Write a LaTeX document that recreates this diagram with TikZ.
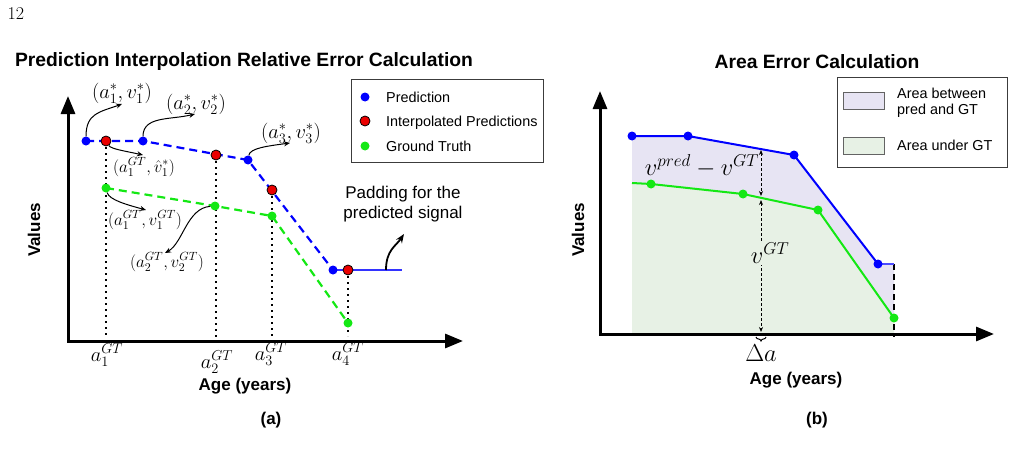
\RequirePackage{fix-cm}
\documentclass[tikz,border=0pt]{standalone}
\usepackage{amsmath, amssymb}
\usepackage{fontspec}
\newfontfamily\arialfont{Liberation Sans}
\usepackage{tikz}
\usetikzlibrary{arrows.meta, decorations.pathreplacing}
\pgfdeclarelayer{background}
\pgfsetlayers{background,main}

\definecolor{predblue}{RGB}{0,0,255}
\definecolor{interpred}{RGB}{235,0,0}
\definecolor{gtgreen}{RGB}{20,232,20}
\definecolor{areafill}{RGB}{231,228,243}
\definecolor{gtfill}{RGB}{231,241,229}
\definecolor{boxgray}{RGB}{60,60,60}

\begin{document}
\begin{tikzpicture}[x=1pt, y=-1pt,
    pred/.style={circle, fill=predblue, inner sep=0pt, minimum size=9pt},
    interp/.style={circle, fill=interpred, draw=black, line width=0.8pt, inner sep=0pt, minimum size=10pt},
    gt/.style={circle, fill=gtgreen, inner sep=0pt, minimum size=9pt},
    axis/.style={line width=3pt, {Triangle[length=18pt, width=14pt]}-{Triangle[length=18pt, width=14pt]}},
    callout/.style={line width=1pt, -{Stealth[length=6pt, width=5pt]}},
    dimline/.style={line width=0.9pt, dash pattern=on 3pt off 2pt, {Stealth[length=5pt, width=4pt]}-{Stealth[length=5pt, width=4pt]}},
    vdots/.style={line width=2pt, dash pattern=on 2pt off 4pt},
    legendbox/.style={draw=boxgray, line width=1pt},
    swatch/.style={rectangle, draw=boxgray!80, line width=1pt, minimum width=41pt, minimum height=17pt, inner sep=0pt},
    pagenum/.style={font=\fontsize{18}{20}\selectfont},
    titletext/.style={font=\arialfont\bfseries\fontsize{19.3}{23}\selectfont},
    axislabel/.style={font=\arialfont\bfseries\fontsize{17}{20}\selectfont},
    legtext/.style={font=\arialfont\fontsize{14.4}{16.5}\selectfont, anchor=west, inner sep=0pt},
    legrow/.style={legtext, text height=10.3pt, text depth=0pt},
    notetext/.style={font=\arialfont\fontsize{17}{20}\selectfont, align=center},
    bigmath/.style={font=\fontsize{20.5}{24}\selectfont, inner sep=0pt},
    smallmath/.style={font=\fontsize{17}{20}\selectfont, inner sep=0pt},
    areamath/.style={font=\fontsize{24.5}{28}\selectfont, inner sep=0pt}]

    \useasboundingbox (0,0) rectangle (1015,460);
    \node[pagenum] (page) at (16,14) {12};

    \node[titletext] (titlea) at (244,62) {Prediction Interpolation Relative Error Calculation};
    \coordinate (oa) at (68,341);
    \coordinate (ya) at (68,96);
    \coordinate (xa) at (463,341);
    \draw[axis] (ya) -- (oa) -- (xa);
    \node[axislabel, rotate=90] (vala) at (34,230) {Values};
    \node[axislabel] (agea) at (245,386) {Age (years)};
    \node[axislabel] (capa) at (271,420) {(a)};

    \node[pred] (p1) at (86,141) {};
    \node[pred] (p2) at (143,141) {};
    \node[pred] (p3) at (248,160) {};
    \node[pred] (p4) at (333,270) {};
    \node[interp] (r1) at (106,141) {};
    \node[interp] (r2) at (216,155) {};
    \node[interp] (r3) at (272,190) {};
    \node[interp] (r4) at (348,270) {};
    \node[gt] (g1) at (106,188) {};
    \node[gt] (g2) at (215,206) {};
    \node[gt] (g3) at (272,216) {};
    \node[gt] (g4) at (348,323) {};
    \coordinate (pe) at (402,270);
    \coordinate (v1) at (106,336);
    \coordinate (v2) at (216,343);
    \coordinate (v3) at (272,336);
    \coordinate (v4) at (348,336);

    \begin{pgfonlayer}{background}
        \draw[vdots] (r1.center) -- (v1);
        \draw[vdots] (r2.center) -- (v2);
        \draw[vdots] (r3.center) -- (v3);
        \draw[vdots] (r4.center) -- (v4);
        \draw[predblue, line width=2.2pt, dash pattern=on 8pt off 5pt] (p1.center) -- (p2.center) -- (p3.center) -- (p4.center);
        \draw[predblue!80, line width=1.6pt] (p4.center) -- (r4.center) -- (pe);
        \draw[gtgreen, line width=2.2pt, dash pattern=on 8pt off 5pt] (g1.center) -- (g2.center) -- (g3.center) -- (g4.center);
    \end{pgfonlayer}

    \node[bigmath] (l1) at (122,93) {$(a_1^*, v_1^*)$};
    \node[bigmath] (l2) at (196,104) {$(a_2^*, v_2^*)$};
    \node[bigmath] (l3) at (291,133) {$(a_3^*, v_3^*)$};
    \node[smallmath] (l4) at (144,167) {$(a_1^{GT}, \hat{v}_1^*)$};
    \node[smallmath] (l5) at (145,220) {$(a_1^{GT}, v_1^{GT})$};
    \node[smallmath] (l6) at (167,262) {$(a_2^{GT}, v_2^{GT})$};
    \coordinate (t1) at (122,104);
    \coordinate (t2) at (195,114);
    \coordinate (t3) at (290,143);
    \coordinate (t4) at (143,155);
    \coordinate (t5) at (146,210);
    \coordinate (t6) at (165,253);
    \draw[callout] (p1) .. controls +(0,-28) and +(-22,8) .. (t1);
    \draw[callout] (p2) .. controls +(0,-25) and +(-25,6) .. (t2);
    \draw[callout] (p3) .. controls +(2,-12) and +(-22,3) .. (t3);
    \draw[callout] (r1) .. controls +(5,8) and +(-18,-4) .. (t4);
    \draw[callout] (g1) .. controls +(3,12) and +(-18,-5) .. (t5);
    \draw[callout] (g2) .. controls +(-28,2) and +(18,-10) .. (t6);

    \node[notetext] (padtext) at (403,204) {Padding for the\\predicted signal};
    \coordinate (pad) at (386,270);
    \coordinate (t7) at (404,234);
    \draw[line width=1.8pt, -{Stealth[length=9pt, width=7pt]}] (pad) .. controls +(0,-20) and +(-8,12) .. (t7);

    \node[bigmath] (ax1) at (107,355) {$a_1^{GT}$};
    \node[bigmath] (ax2) at (217,362) {$a_2^{GT}$};
    \node[bigmath] (ax3) at (271,354) {$a_3^{GT}$};
    \node[bigmath] (ax4) at (348,354) {$a_4^{GT}$};

    \draw[legendbox] (351,80) rectangle (543,162);
    \node[pred] (lp) at (365,97) {};
    \node[legrow] (lpt) at (386,97) {Prediction};
    \node[interp] (li) at (365,121) {};
    \node[legrow] (lit) at (386,121) {Interpolated Predictions};
    \node[gt] (lg) at (365,146) {};
    \node[legrow] (lgt) at (386,146) {Ground Truth};

    \node[titletext] (titleb) at (817,62) {Area Error Calculation};
    \coordinate (ob) at (600,334);
    \coordinate (yb) at (600,91);
    \coordinate (xb) at (994,334);
    \node[axislabel, rotate=90] (valb) at (578,230) {Values};
    \node[axislabel] (ageb) at (796,380) {Age (years)};
    \node[axislabel] (capb) at (817,420) {(b)};

    \node[pred] (b1) at (632,136) {};
    \node[pred] (b2) at (688,136) {};
    \node[pred] (b3) at (794,155) {};
    \node[pred] (b4) at (878,264) {};
    \coordinate (b5) at (894,264);
    \coordinate (gs) at (632,183);
    \node[gt] (c1) at (651,184) {};
    \node[gt] (c2) at (743,194) {};
    \node[gt] (c3) at (818,210) {};
    \node[gt] (c4) at (894,318) {};
    \coordinate (fl) at (632,334);
    \coordinate (fr) at (894,334);
    \coordinate (fe) at (894,337);

    \begin{pgfonlayer}{background}
        \fill[gtfill] (fl) -- (gs) -- (c1.center) -- (c2.center) -- (c3.center) -- (c4.center) -- (fr) -- cycle;
        \fill[areafill] (gs) -- (b1.center) -- (b2.center) -- (b3.center) -- (b4.center) -- (b5) -- (c4.center) -- (c3.center) -- (c2.center) -- (c1.center) -- cycle;
        \draw[black, line width=2pt, dash pattern=on 6pt off 4pt] (b5) -- (fe);
        \draw[predblue, line width=2pt] (b1.center) -- (b2.center) -- (b3.center) -- (b4.center);
        \draw[predblue!70, line width=1.5pt] (b4.center) -- (b5);
        \draw[gtgreen, line width=2pt] (gs) -- (c1.center) -- (c2.center) -- (c3.center) -- (c4.center);
    \end{pgfonlayer}
    \draw[axis] (yb) -- (ob) -- (xb);

    \coordinate (d1) at (761,150);
    \coordinate (d2) at (761,196);
    \coordinate (d3) at (761,200);
    \coordinate (d4) at (761,332);
    \draw[dimline] (d1) -- (d2);
    \draw[dimline] (d3) -- (d4);
    \node[areamath] (vdiff) at (702,166) {$v^{pred} - v^{GT}$};
    \node[areamath, fill=gtfill, inner sep=2pt] (vgt) at (770,253) {$v^{GT}$};
    \coordinate (bl) at (756,337);
    \coordinate (br) at (766,337);
    \draw[line width=1pt, decorate, decoration={brace, amplitude=4pt, mirror}] (bl) -- (br);
    \node[areamath] (da) at (761,353) {$\Delta a$};

    \draw[legendbox] (837,78) rectangle (1007,167);
    \node[swatch, fill=areafill] (sw1) at (863.5,100.5) {};
    \node[legtext, align=left] (lt1) at (897,103) {Area between\\pred and GT};
    \node[swatch, fill=gtfill] (sw2) at (863.5,145.5) {};
    \node[legrow] (lt2) at (897,145) {Area under GT};
\end{tikzpicture}
\end{document}
